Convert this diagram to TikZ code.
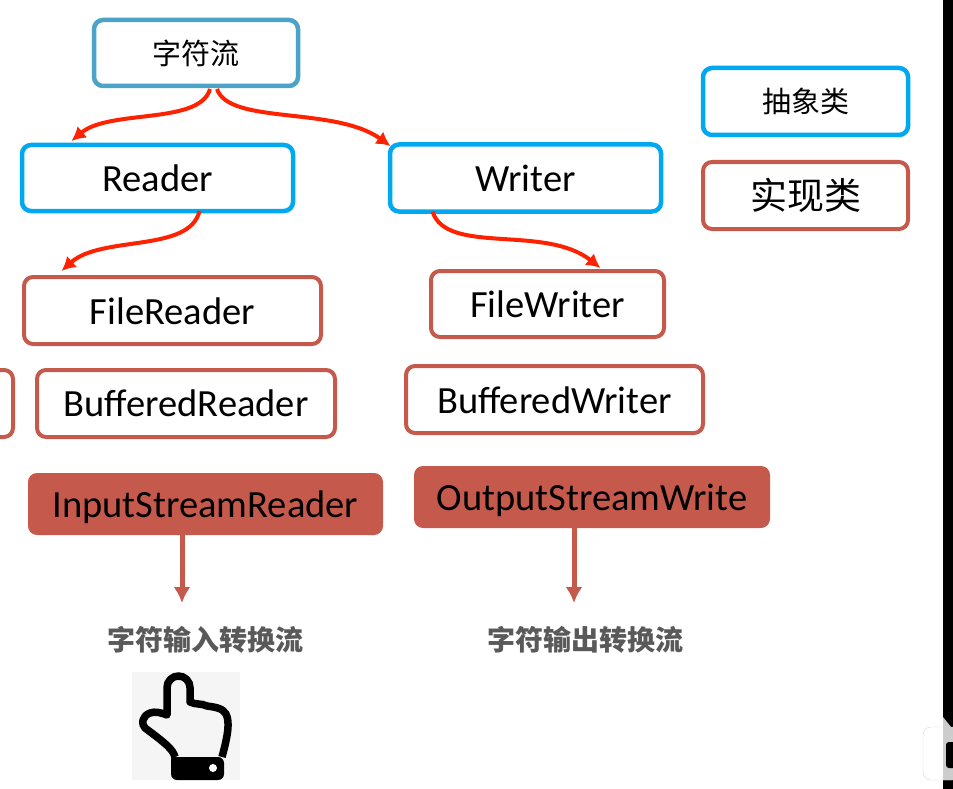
\documentclass[tikz,border=0pt]{standalone}
\usepackage{fontspec}
\setmainfont{Carlito}
\newfontfamily\cjk{Noto Sans CJK SC}
\usepackage{tikz}
\usetikzlibrary{arrows.meta,positioning}
\definecolor{rootblue}{HTML}{4BA3C7}
\definecolor{absblue}{HTML}{00A8F0}
\definecolor{implred}{HTML}{C5594C}
\definecolor{curvered}{HTML}{FF2200}
\tikzset{
  rootblock/.style={
    draw=rootblue,
    rounded corners=9pt,
    line width=4.5pt,
    fill=white,
    align=center,
    outer sep=0pt,
    inner sep=0pt,
    font=\fontsize{29}{29}\selectfont\cjk
  },
  absblock/.style={
    rootblock,
    draw=absblue,
    font=\fontsize{38.5}{38.5}\selectfont
  },
  implblock/.style={
    rootblock,
    draw=implred,
    line width=4pt,
    font=\fontsize{38.5}{38.5}\selectfont
  },
  fillblock/.style={
    implblock,
    fill=implred,
    draw=none
  },
  curveline/.style={-{Latex[length=14pt,width=15pt]}, line width=4pt, draw=curvered},
  downline/.style={-{Latex[length=16pt,width=17pt]}, line width=5pt, draw=implred},
  smallnote/.style={
    text=black!65,
    inner sep=0pt,
    outer sep=0pt,
    minimum height=74pt,
    font=\fontsize{28}{28}\selectfont\cjk\bfseries
  }
}
\begin{document}
\begin{tikzpicture}[x=1pt,y=1pt]
\useasboundingbox (0,0) rectangle (953,-789);
\fill[white] (0,0) rectangle (953,-789);

\node[rootblock, minimum width=204pt, minimum height=66pt] (chars) at (196,-53) {字符流};
\node[absblock, minimum width=271pt, minimum height=66pt, below=59pt of chars, xshift=-38.5pt] (reader) {Reader};
\node[absblock, minimum width=271pt, minimum height=67pt, right=97pt of reader] (writer) {Writer};
\node[implblock, minimum width=297pt, minimum height=67pt, below=66pt of reader, xshift=15pt] (filereader) {\raisebox{-1pt}[\height][\depth]{FileReader}};
\node[implblock, minimum width=233pt, minimum height=66pt, below=59.5pt of writer, xshift=22pt] (filewriter) {FileWriter};
\node[implblock, minimum width=298pt, minimum height=67pt, below=26pt of filereader, xshift=13.5pt] (bufreader) {BufferedReader};
\node[implblock, minimum width=297pt, minimum height=67pt, below=29pt of filewriter, xshift=7pt] (bufwriter) {\raisebox{-1pt}[\height][\depth]{BufferedWriter}};
\node[implblock, minimum width=126pt, minimum height=67pt, left=24pt of bufreader] (stub) {};
\node[fillblock, minimum width=355pt, minimum height=62pt, below=36pt of bufreader, xshift=19.5pt] (isr) {\raisebox{-3pt}[\height][\depth]{InputStreamReader}};
\node[fillblock, minimum width=356pt, minimum height=62pt, below=33pt of bufwriter, xshift=37.5pt] (osw) {\raisebox{-3pt}[\height][\depth]{OutputStreamWrite}};
\node[smallnote, below=68pt of isr] (isrnote) {字符输入转换流};
\node[smallnote, below=75pt of osw, xshift=-6.5pt] (oswnote) {字符输出转换流};

\node[absblock, minimum width=205pt, minimum height=67pt, font=\fontsize{29}{29}\selectfont\cjk] (abstract) at (805.5,-101.5) {抽象类};
\node[implblock, minimum width=205pt, minimum height=67pt, below=27pt of abstract, font=\fontsize{37}{37}\selectfont\cjk] (impl) {实现类};

\draw[curveline] ([xshift=14pt,yshift=-3pt]chars.south) .. controls +(-10,-36) and +(38,32) .. ([xshift=-86pt,yshift=4pt]reader.north);
\draw[curveline] ([xshift=21pt,yshift=-3pt]chars.south) .. controls +(12,-36) and +(-56,40) .. ([xshift=-135pt,yshift=32pt]writer.center);
\draw[curveline] ([xshift=42pt]reader.south) .. controls +(-10,-42) and +(40,36) .. ([xshift=-111pt,yshift=6pt]filereader.north);
\draw[curveline] ([xshift=-93pt]writer.south) .. controls +(14,-44) and +(-56,44) .. ([xshift=53pt,yshift=3pt]filewriter.north);
\draw[downline] ([xshift=-23.5pt]isr.south) -- ([xshift=-23.5pt]isrnote.north);
\draw[downline] ([xshift=-18pt]osw.south) -- ([xshift=-11.5pt]oswnote.north);

\fill[black!4] (132,-672) rectangle (240,-780);
\draw[black, line width=7.5pt, fill=black!4, line join=round]
  (175,-757) .. controls (173,-750) and (168,-745) .. (145,-728)
  .. controls (141,-724) and (142,-716) .. (150,-713)
  .. controls (155,-711) and (162,-713) .. (167,-715)
  -- (167,-687.5) arc[start angle=180, end angle=0, radius=11.5]
  -- (190,-702) .. controls (196,-705) and (201,-703) .. (207,-706)
  .. controls (214,-707) and (223,-708) .. (226,-714)
  .. controls (230,-722) and (228,-735) .. (222,-757);
\fill[black, rounded corners=6pt] (171,-757) -- (171,-780) -- (224,-780) -- (224,-757) [sharp corners] -- cycle;
\fill[white] (213,-768) circle (4pt);

\fill[black] (943,0) rectangle (953,-789);
\fill[white, draw=black!15, rounded corners=8pt] (923,-727) rectangle (960,-780);
\fill[black!20] (943,-727) rectangle (953,-780);
\fill[black!20] (943,-727) -- (943,-717) -- (951,-727) -- cycle;
\fill[black, rounded corners=3pt] (946,-742) rectangle (960,-768);
\end{tikzpicture}
\end{document}
